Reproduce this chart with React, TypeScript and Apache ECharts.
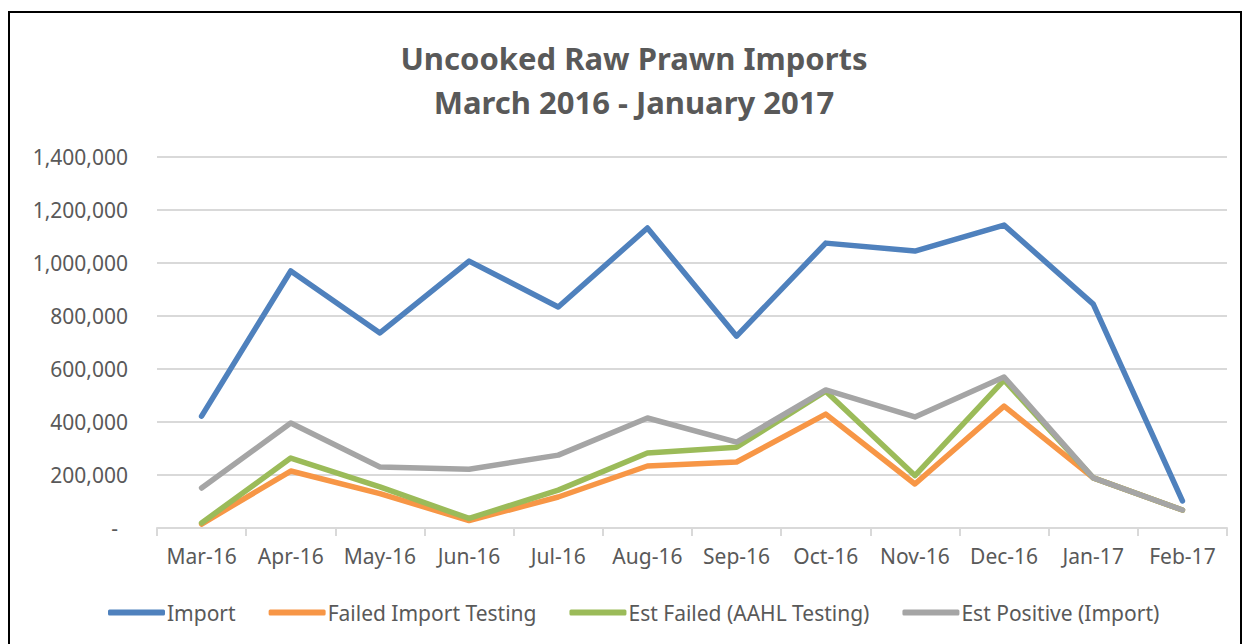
import React, { useEffect, useRef } from "react";
import * as echarts from "echarts";

const categories = ["Mar-16", "Apr-16", "May-16", "Jun-16", "Jul-16", "Aug-16", "Sep-16", "Oct-16", "Nov-16", "Dec-16", "Jan-17", "Feb-17"];
const importValues = [422000, 970000, 736000, 1007000, 834000, 1132000, 724000, 1075000, 1045000, 1143000, 845000, 102000];
const failedImportTesting = [15000, 215000, 130000, 28000, 117000, 234000, 249000, 430000, 166000, 460000, 189000, 68000];
const estFailedAAHL = [19000, 264000, 155000, 36000, 143000, 283000, 305000, 516000, 198000, 558000, 189000, 68000];
const estPositiveImport = [151000, 396000, 230000, 222000, 275000, 415000, 324000, 521000, 419000, 570000, 189000, 68000];
const seriesNames = ["Import", "Failed Import Testing", "Est Failed (AAHL Testing)", "Est Positive (Import)"];
const titleLines = ["Uncooked Raw Prawn Imports", "March 2016 - January 2017"];

const FONT = "'Noto Sans', 'Open Sans', sans-serif";
const TEXT = "#595959";

export default function App() {
  const ref = useRef<HTMLDivElement>(null);
  useEffect(() => {
    if (!ref.current) return;
    const chart = echarts.init(ref.current, undefined, { renderer: "svg" });
    const colors = ["#4F81BD", "#F79646", "#9BBB59", "#A5A5A5"];
    const data = [importValues, failedImportTesting, estFailedAAHL, estPositiveImport];
    chart.setOption({
      animation: false,
      backgroundColor: "#ffffff",
      textStyle: { fontFamily: FONT },
      color: colors,
      title: {
        text: titleLines.join("\n"),
        left: 629,
        textAlign: "center",
        top: 31,
        textStyle: { fontFamily: FONT, fontSize: 31, fontWeight: "bold", color: TEXT, lineHeight: 44 },
      },
      grid: { left: 157, right: 17, top: 157, bottom: 116, containLabel: false },
      legend: {
        left: 103,
        top: 597,
        icon: "roundRect",
        itemWidth: 57,
        itemHeight: 6,
        itemGap: 33,
        textStyle: { fontFamily: FONT, fontSize: 21, color: TEXT, padding: [0, 0, 0, -3] },
        data: seriesNames,
      },
      xAxis: {
        type: "category",
        data: categories,
        boundaryGap: true,
        axisLine: { show: true, lineStyle: { color: "#d9d9d9", width: 2 } },
        axisTick: { show: true, length: 8, lineStyle: { color: "#d9d9d9", width: 2 } },
        axisLabel: { fontFamily: FONT, fontSize: 21, color: TEXT, margin: 17, interval: 0 },
      },
      yAxis: {
        type: "value",
        min: 0,
        max: 1400000,
        interval: 200000,
        axisLine: { show: false },
        axisTick: { show: false },
        splitLine: { lineStyle: { color: "#d9d9d9", width: 2 } },
        axisLabel: {
          fontFamily: FONT,
          fontSize: 21,
          color: TEXT,
          margin: 29,
          formatter: (v: number) => (v === 0 ? "{d|-}" : v.toLocaleString("en-US")),
          rich: { d: { fontFamily: FONT, fontSize: 21, color: TEXT, padding: [0, 10, 0, 0] } },
        },
      },
      series: seriesNames.map((name, i) => ({
        name,
        type: "line",
        data: data[i],
        symbol: "none",
        lineStyle: { width: 5.5, color: colors[i], cap: "round", join: "round" },
        itemStyle: { color: colors[i] },
        z: 2 + i,
      })),
      graphic: [
        {
          type: "rect",
          shape: { x: 9, y: 12, width: 1232, height: 700 },
          style: { fill: "none", stroke: "#000000", lineWidth: 2 },
          silent: true,
        },
      ],
    });
    return () => chart.dispose();
  }, []);
  return <div ref={ref} style={{ position: "fixed", left: 0, top: 0, width: 1244, height: 644 }} />;
}
